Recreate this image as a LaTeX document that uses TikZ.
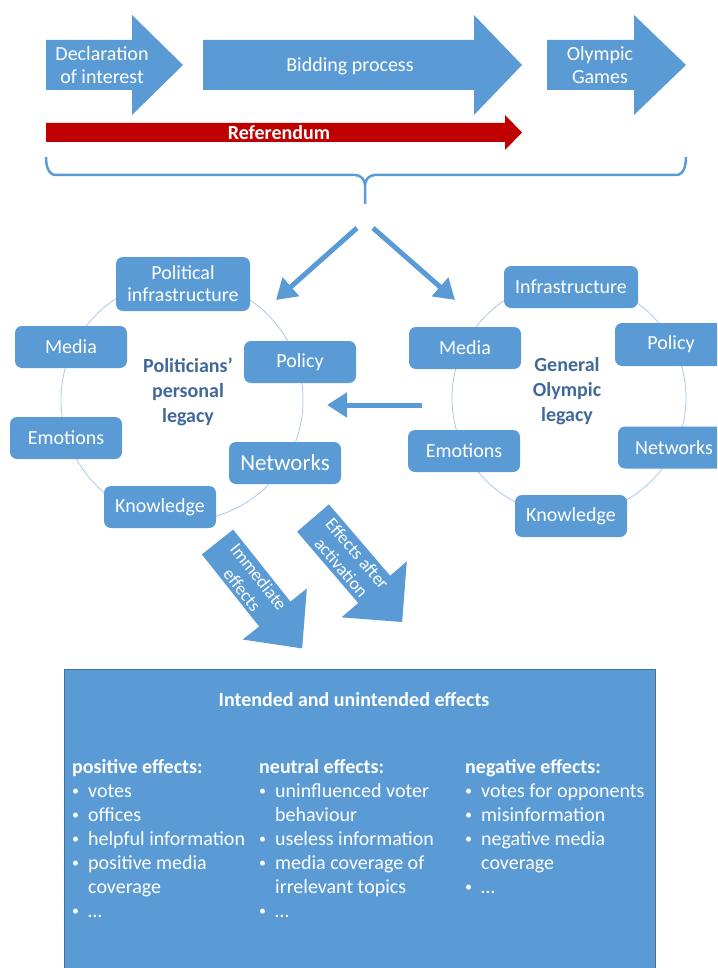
\documentclass[tikz,border=0pt]{standalone}
\usepackage{fontspec}
\setmainfont{Carlito}
\usetikzlibrary{arrows.meta}
\definecolor{ofblue}{HTML}{5B9BD5}
\definecolor{ofred}{HTML}{C00000}
\definecolor{ringc}{HTML}{A9C8E8}
\definecolor{lblc}{HTML}{41689A}
\definecolor{edgec}{HTML}{41719C}
\tikzset{
  legbox/.style={fill=ofblue, rounded corners=7pt, text=white, minimum width=112pt,
    minimum height=42pt, inner sep=2pt, align=center, font=\fontsize{20}{22}\selectfont},
  ring/.style={draw=ringc, line width=0.8pt},
  centrelbl/.style={text=lblc, align=center, font=\bfseries\fontsize{20}{25}\selectfont},
  flowarr/.style={draw=ofblue, line width=5pt, -{Triangle[length=20pt,width=24pt]}},
  toptext/.style={text=white, align=center, font=\fontsize{20}{23}\selectfont},
  diagtext/.style={text=white, align=center, font=\fontsize{18}{21}\selectfont},
  coltext/.style={text=white, inner sep=0pt, align=left, font=\fontsize{20}{24}\selectfont},
  bracestyle/.style={draw=ofblue, line width=2.5pt},
}
\newcommand{\bl}{\raisebox{1.6pt}{\fontsize{14}{14}\selectfont\textbullet}}
\begin{document}
\begin{tikzpicture}[x=1pt,y=-1pt]
\useasboundingbox (0,0) rectangle (717,968);
\clip (0,0) rectangle (717,968);

% top process arrows
\fill[ofblue] (46,40) -- (132,40) -- (132,15) -- (183,65) -- (132,115) -- (132,90) -- (46,90) -- cycle;
\node[toptext] (decl) at (102,65.5) {Declaration\\of interest};
\fill[ofblue] (203,40) -- (474,40) -- (474,15) -- (522,65) -- (474,115) -- (474,90) -- (203,90) -- cycle;
\node[toptext] (bid) at (350,66) {Bidding process};
\fill[ofblue] (547,40) -- (634,40) -- (634,15) -- (686,65) -- (634,115) -- (634,90) -- (547,90) -- cycle;
\node[toptext] (games) at (600,65.5) {Olympic\\Games};

% referendum
\fill[ofred] (46,123) -- (505,123) -- (505,115) -- (522,132.5) -- (505,150) -- (505,142) -- (46,142) -- cycle;
\node[text=white, font=\bfseries\fontsize{20}{22}\selectfont] (ref) at (279,132.5) {Referendum};

% brace
\draw[bracestyle] (46,157) to[out=-90,in=180] (56,175) -- (355,175) to[out=0,in=90] (365,185) -- (365,204);
\draw[bracestyle] (686,157) to[out=-90,in=0] (676,175) -- (375,175) to[out=180,in=90] (365,185);

% rings
\draw[ring] (182,400) circle (121);
\draw[ring] (569,398) circle (117);

% left legacy
\node[legbox, minimum width=134pt, minimum height=54pt] (polinf) at (183,284) {Political\\infrastructure};
\node[legbox] (mediaL) at (71,347) {Media};
\node[legbox] (policyL) at (300,362) {Policy};
\node[legbox] (emoL) at (66,438) {Emotions};
\node[legbox, font=\fontsize{23}{25}\selectfont] (netL) at (285,463) {Networks};
\node[legbox] (knowL) at (160,507) {Knowledge};
\node[centrelbl] (polleg) at (188,392) {Politicians’\\personal\\legacy};

% right legacy
\node[legbox, minimum width=134pt] (infra) at (571,287) {Infrastructure};
\node[legbox] (mediaR) at (465,348) {Media};
\node[legbox, minimum height=43pt] (policyR) at (671,344.5) {Policy};
\node[legbox] (netR) at (674,447.5) {Networks};
\node[legbox] (emoR) at (464,451) {Emotions};
\node[legbox] (knowR) at (571,516) {Knowledge};
\node[centrelbl] (genleg) at (567,391) {General\\Olympic\\legacy};

% connectors
\coordinate (splitL) at (357,228);
\coordinate (splitR) at (373,228);
\coordinate (tipL) at (276,300);
\coordinate (tipR) at (455,300);
\coordinate (backS) at (422,405);
\coordinate (backE) at (327,405);
\draw[flowarr] (splitL) -- (tipL);
\draw[flowarr] (splitR) -- (tipR);
\draw[flowarr] (backS) -- (backE);

% diagonal effect arrows
\begin{scope}[shift={(217.5,542)}, rotate=-51.5]
\fill[ofblue] (0,-20) -- (92,-20) -- (92,-41) -- (136,0) -- (92,41) -- (92,20) -- (0,20) -- cycle;
\node[diagtext, rotate=-51.5] (imm) at (53,0) {Immediate\\effects};
\end{scope}
\begin{scope}[shift={(313,518)}, rotate=-49.4]
\fill[ofblue] (0,-21) -- (94,-21) -- (94,-43) -- (137,0) -- (94,43) -- (94,21) -- (0,21) -- cycle;
\node[diagtext, rotate=-49.4] (act) at (56,0) {Effects after\\activation};
\end{scope}

% effects box
\filldraw[fill=ofblue, draw=edgec, line width=0.8pt] (64,669) rectangle (655,975);
\node[text=white, font=\bfseries\fontsize{20}{22}\selectfont] (title) at (354,700) {Intended and unintended effects};

\node[coltext, anchor=base west] (colpos) at (72,773) {\begin{tabular}[t]{@{}p{16pt}@{}l@{}}
\multicolumn{2}{@{}l@{}}{\bfseries positive effects:}\\
\bl & votes\\
\bl & offices\\
\bl & helpful information\\
\bl & positive media\\
 & coverage\\
\bl & …\\
\end{tabular}};
\node[coltext, anchor=base west] (colneu) at (259,773) {\begin{tabular}[t]{@{}p{16pt}@{}l@{}}
\multicolumn{2}{@{}l@{}}{\bfseries neutral effects:}\\
\bl & uninfluenced voter\\
 & behaviour\\
\bl & useless information\\
\bl & media coverage of\\
 & irrelevant topics\\
\bl & …\\
\end{tabular}};
\node[coltext, anchor=base west] (colneg) at (465,773) {\begin{tabular}[t]{@{}p{16pt}@{}l@{}}
\multicolumn{2}{@{}l@{}}{\bfseries negative effects:}\\
\bl & votes for opponents\\
\bl & misinformation\\
\bl & negative media\\
 & coverage\\
\bl & …\\
\end{tabular}};
\end{tikzpicture}
\end{document}
